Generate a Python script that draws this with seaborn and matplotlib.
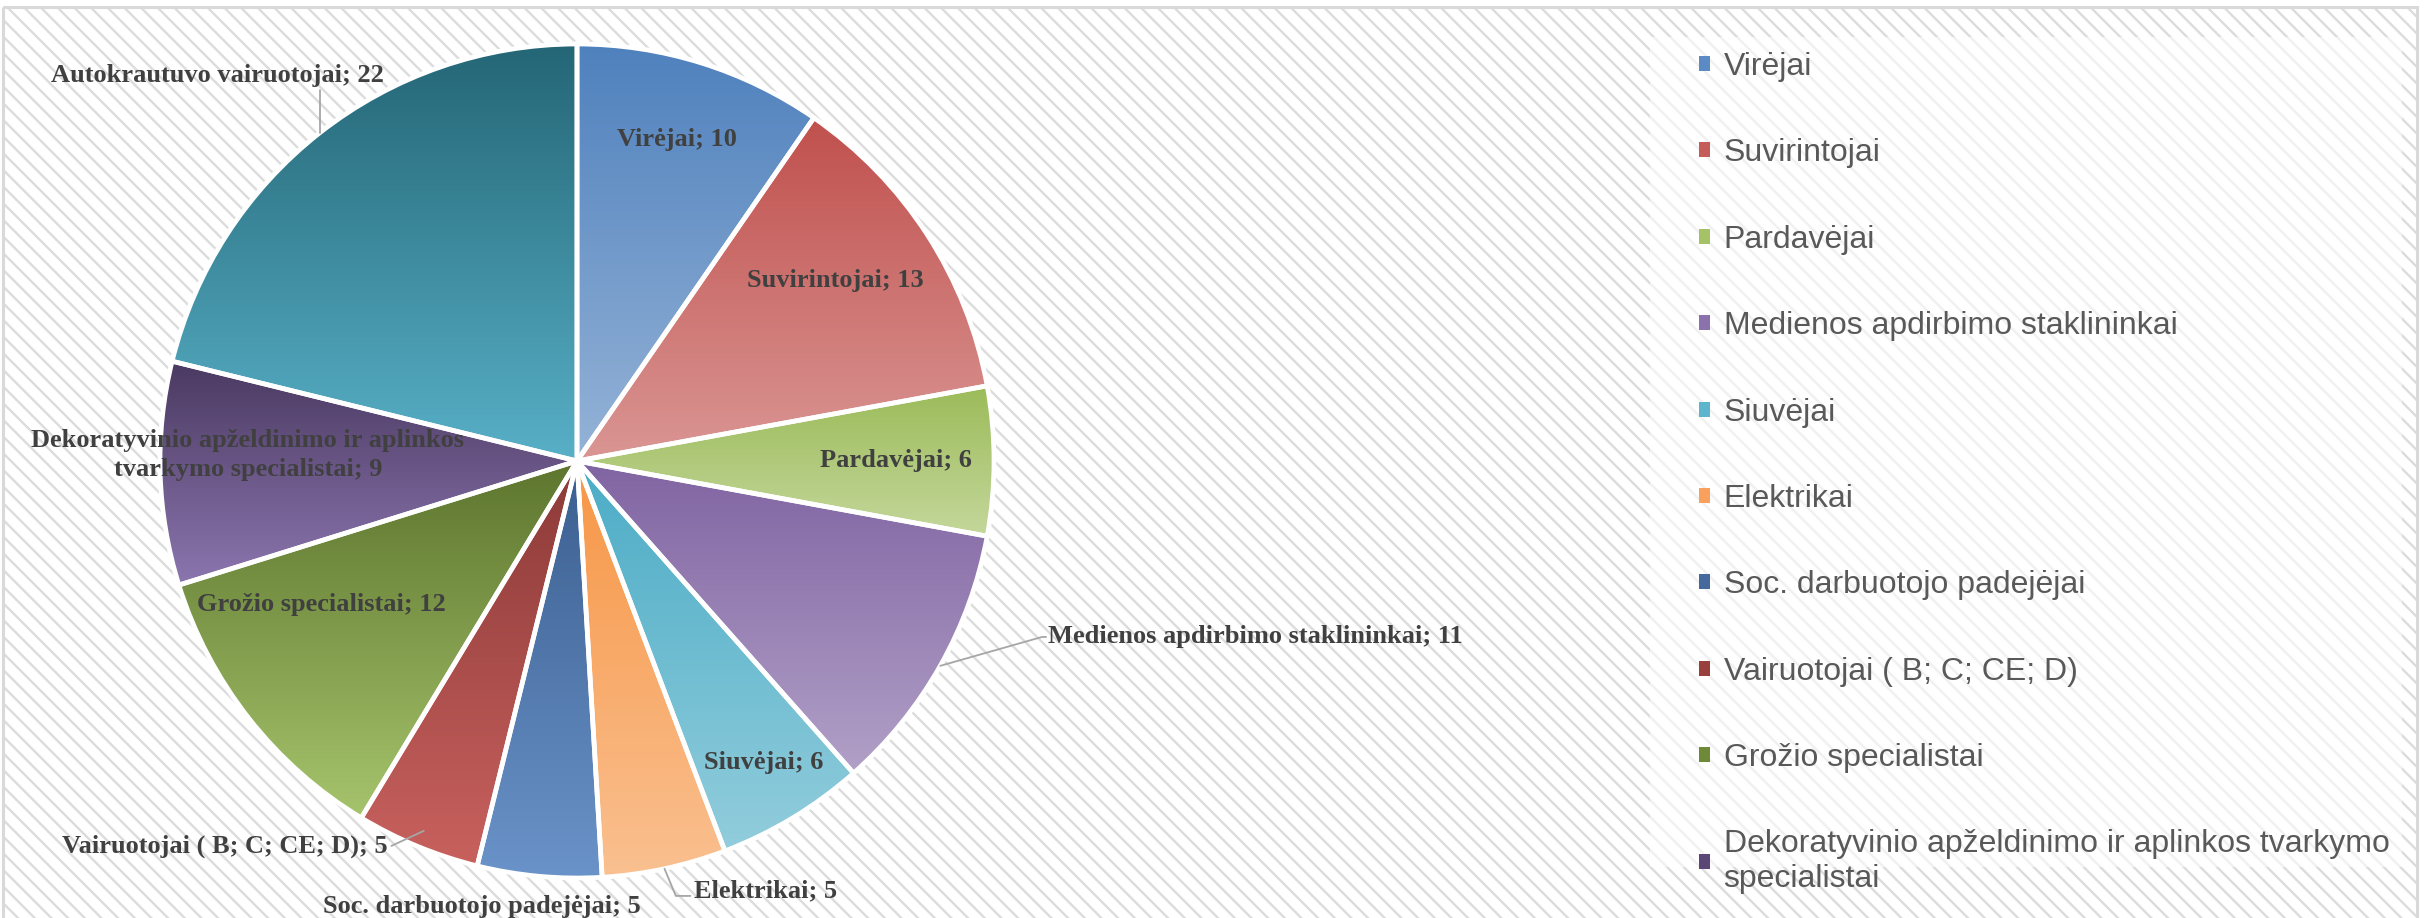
import numpy as np
import matplotlib
matplotlib.use("Agg")
import matplotlib.pyplot as plt
import seaborn as sns
from matplotlib.patches import Rectangle, Patch

# ---------------- data ----------------
categories = [
    "Virėjai",
    "Suvirintojai",
    "Pardavėjai",
    "Medienos apdirbimo staklininkai",
    "Siuvėjai",
    "Elektrikai",
    "Soc. darbuotojo padejėjai",
    "Vairuotojai ( B; C; CE; D)",
    "Grožio specialistai",
    "Dekoratyvinio apželdinimo ir aplinkos tvarkymo specialistai",
    "Autokrautuvo vairuotojai",
]
values = [10, 13, 6, 11, 6, 5, 5, 5, 12, 9, 22]

# gradient colours per slice (top -> bottom)
top_colors = ["#4F81BD", "#C0504D", "#9BBB59", "#8064A2", "#4BACC6", "#F79646",
              "#3B5E8F", "#8C3A38", "#5D752E", "#4A3961", "#246676"]
bottom_colors = ["#95B3D7", "#DA9694", "#C4D79B", "#B1A0C7", "#92CDDC", "#FAC090",
                 "#6A93C9", "#C8615E", "#A6C46C", "#8C76AF", "#58B0C7"]
legend_colors = ["#5B8AC4", "#C65C59", "#A5C267", "#8C72AD", "#5CB5CC", "#F8A05C",
                 "#45699C", "#993F3D", "#6E8A38", "#5A4677"]

# label text (data labels / legend)
data_labels = [
    "Virėjai; 10", "Suvirintojai; 13", "Pardavėjai; 6",
    "Medienos apdirbimo staklininkai; 11", "Siuvėjai; 6", "Elektrikai; 5",
    "Soc. darbuotojo padejėjai; 5", "Vairuotojai ( B; C; CE; D); 5",
    "Grožio specialistai; 12",
    "Dekoratyvinio apželdinimo ir aplinkos\ntvarkymo specialistai; 9",
    "Autokrautuvo vairuotojai; 22",
]
legend_labels = [
    "Virėjai", "Suvirintojai", "Pardavėjai", "Medienos apdirbimo staklininkai",
    "Siuvėjai", "Elektrikai", "Soc. darbuotojo padejėjai",
    "Vairuotojai ( B; C; CE; D)", "Grožio specialistai",
    "Dekoratyvinio apželdinimo ir aplinkos tvarkymo\nspecialistai",
]

# ---------------- layout (label placement in pie-radius units) ----------------
label_pos = [(0.24, 0.772), (0.619, 0.432), (0.765, 0.0), (1.13, -0.42),
             (0.448, -0.724), (0.28, -1.031), (-0.228, -1.068),
             (-0.453, -0.923), (-0.614, -0.345), (-0.789, 0.015), (-0.863, 0.925)]
label_ha = ["center", "center", "center", "left", "center", "left", "center",
            "right", "center", "center", "center"]
# leaders: index -> list of extra points after the wedge edge point
leaders = {
    3: [(1.115, -0.422), (1.125, -0.422)],
    5: [(0.237, -1.043), (0.272, -1.043)],
    7: [(-0.445, -0.923)],
    10: [(None, 0.89)],
}

sns.set_theme(style="white")
plt.rcParams["hatch.linewidth"] = 1.7

W, H = 2430, 918
fig = plt.figure(figsize=(W / 100, H / 100), dpi=100)
fig.patch.set_facecolor("white")

# background: hatched chart area with light border
bg = fig.add_axes([0, 0, 1, 1], zorder=-10)
bg.set_xlim(0, W)
bg.set_ylim(H, 0)
bg.axis("off")
bg.add_patch(Rectangle((3, 7), 2414, 960, facecolor="white", edgecolor="#DCDCDC",
                       hatch="\\\\", lw=0))
bg.add_patch(Rectangle((3, 7), 2414, 960, fill=False, edgecolor="#D9D9D9", lw=2.2))
bg.add_patch(Rectangle((1650, 37), 752, 830, facecolor="white", alpha=0.6, lw=0))

# pie
cx, cy, R = 577, 461, 417
ax = fig.add_axes([(cx - R) / W, (H - cy - R) / H, 2 * R / W, 2 * R / H])
ax.set_facecolor("none")
wedges, _ = ax.pie(values, startangle=90, counterclock=False,
                   colors=top_colors,
                   wedgeprops=dict(edgecolor="white", linewidth=3.4))

for i, w in enumerate(wedges):
    ext = w.get_path().get_extents()
    grad = np.array(sns.blend_palette([top_colors[i], bottom_colors[i]], n_colors=256))
    img = grad[:, None, :]
    im = ax.imshow(img, extent=[ext.x0, ext.x1, ext.y0, ext.y1], origin="upper",
                   aspect="auto", interpolation="bilinear", zorder=1)
    im.set_clip_path(w)
    w.set_facecolor("none")
    w.set_zorder(3)

ax.set_xlim(-1, 1)
ax.set_ylim(-1, 1)
ax.set_aspect("equal")
ax.axis("off")

# data labels
for i, w in enumerate(wedges):
    mid = np.deg2rad((w.theta1 + w.theta2) / 2)
    x, y = label_pos[i]
    ax.text(x, y, data_labels[i], ha=label_ha[i], va="center",
            fontsize=19, fontweight="bold", family="Liberation Serif",
            color="#404040", zorder=5, linespacing=1.32)
    if i in leaders:
        r = 0.96 if i == 7 else 1.0
        px, py = [r * np.cos(mid)], [r * np.sin(mid)]
        for (lx, ly) in leaders[i]:
            px.append(px[0] if lx is None else lx)
            py.append(ly)
        ax.plot(px, py, color="#A6A6A6", lw=1.3, zorder=4, clip_on=False)

# legend
handles = [Patch(facecolor=c, edgecolor="none") for c in legend_colors]
leg = fig.legend(handles, legend_labels, loc="upper left",
                 bbox_to_anchor=(1699 / W, 1 - 52 / H), frameon=False,
                 prop=dict(family="Liberation Sans", size=23),
                 labelcolor="#595959", handlelength=0.35, handleheight=0.35,
                 handletextpad=0.42, labelspacing=1.765, borderpad=0,
                 borderaxespad=0)

fig.savefig("out.png", dpi=100, facecolor="white")
